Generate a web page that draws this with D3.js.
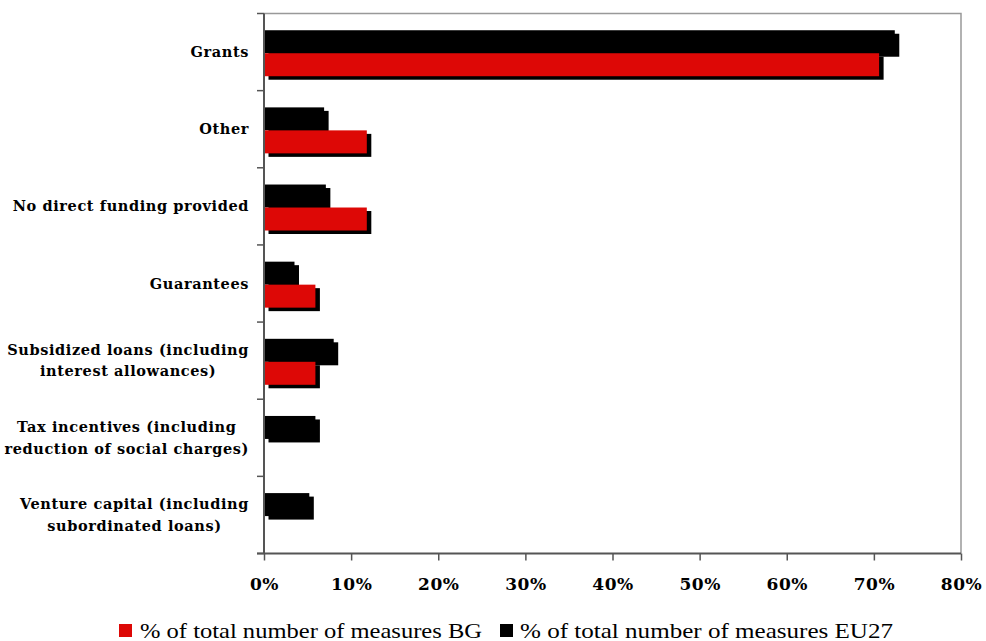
<!DOCTYPE html>
<html>
<head>
<meta charset="utf-8">
<script src="https://cdn.jsdelivr.net/npm/d3@7/dist/d3.min.js"></script>
<style>
  html, body { margin: 0; padding: 0; background: #fff; }
  svg { display: block; }
</style>
</head>
<body>
<svg id="chart" width="986" height="641"></svg>
<script>
// Financing instruments, share of measures
const categories = [
  ["Grants"],
  ["Other"],
  ["No direct funding provided"],
  ["Guarantees"],
  ["Subsidized loans (including", "interest allowances)"],
  ["Tax incentives (including", "reduction of social charges)"],
  ["Venture capital (including", "subordinated loans)"]
];
const valuesEU27 = [0.724, 0.069, 0.071, 0.035, 0.080, 0.059, 0.052];
const valuesBG   = [0.706, 0.118, 0.118, 0.059, 0.059, 0.0, 0.0];
const xTicks = [0, 0.1, 0.2, 0.3, 0.4, 0.5, 0.6, 0.7, 0.8];
const seriesNames = ["% of total number of measures BG", "% of total number of measures EU27"];

const RED = "#dd0806";
const BLACK = "#000000";
const AXIS = "#555555";

const svg = d3.select("#chart");
const plot = { left: 264, right: 961, top: 13.5, bottom: 553.5 };

const keys = categories.map(c => c.join(" "));
const x = d3.scaleLinear().domain([0, 0.8]).range([plot.left, plot.right]);
const y = d3.scaleBand().domain(keys).range([plot.top, plot.bottom]).padding(0);

const bw = y.bandwidth();
const barH = bw * 0.298;
const groupTop = bw * 0.217;
const shadow = { dx: 4.5, dy: 3.5 };

const rows = keys.map((k, i) => ({ key: k, lines: categories[i], eu: valuesEU27[i], bg: valuesBG[i] }));

// plot frame (top and right edges)
svg.append("path")
  .attr("d", `M${plot.left},${plot.top}H${plot.right}V${plot.bottom}`)
  .attr("fill", "none").attr("stroke", "#999").attr("stroke-width", 1.5);

// bar shadows
const gShadow = svg.append("g");
rows.forEach(r => {
  const y0 = y(r.key) + groupTop;
  [[r.eu, y0], [r.bg, y0 + barH]].forEach(([v, yy]) => {
    if (v <= 0) return;
    gShadow.append("rect")
      .attr("x", x(0) + shadow.dx).attr("y", yy + shadow.dy)
      .attr("width", x(v) - x(0)).attr("height", barH)
      .attr("fill", BLACK);
  });
});

// bars
const gBars = svg.append("g");
gBars.selectAll("rect.eu").data(rows).join("rect")
  .attr("class", "eu")
  .attr("x", x(0)).attr("y", d => y(d.key) + groupTop)
  .attr("width", d => x(d.eu) - x(0)).attr("height", barH)
  .attr("fill", BLACK);
gBars.selectAll("rect.bg").data(rows).join("rect")
  .attr("class", "bg")
  .attr("x", x(0)).attr("y", d => y(d.key) + groupTop + barH)
  .attr("width", d => x(d.bg) - x(0)).attr("height", barH)
  .attr("fill", RED);

// x axis
const xAxis = svg.append("g")
  .attr("transform", `translate(0,${plot.bottom})`)
  .call(d3.axisBottom(x).tickValues(xTicks).tickFormat(d3.format(".0%")).tickSize(7).tickSizeOuter(0).tickPadding(17));
xAxis.select(".domain").attr("stroke", AXIS).attr("stroke-width", 2)
  .attr("d", `M${plot.left - 7},0H${plot.right}`);
xAxis.selectAll(".tick line").attr("stroke", AXIS).attr("stroke-width", 1.5);
xAxis.selectAll(".tick text")
  .attr("fill", "#000")
  .style("font-family", "'DejaVu Serif', serif")
  .style("font-size", "17px")
  .style("font-weight", "bold")
  .style("letter-spacing", "0.5px");

// y axis: line plus ticks at band boundaries
const yAxis = svg.append("g");
yAxis.append("line")
  .attr("x1", plot.left).attr("x2", plot.left)
  .attr("y1", plot.top).attr("y2", plot.bottom)
  .attr("stroke", AXIS).attr("stroke-width", 2);
const bounds = keys.map(k => y(k)).concat([plot.bottom]);
yAxis.selectAll("line.tk").data(bounds).join("line")
  .attr("class", "tk")
  .attr("x1", plot.left - 7).attr("x2", plot.left)
  .attr("y1", d => d).attr("y2", d => d)
  .attr("stroke", AXIS).attr("stroke-width", 1.5);

// category labels, each block right-aligned with lines centred
const labelRight = 249;
const lineGap = 21.5;
rows.forEach(r => {
  const cy = y(r.key) + bw / 2;
  const t = yAxis.append("text")
    .attr("fill", "#000")
    .style("font-family", "'DejaVu Serif', serif")
    .style("font-size", "14.5px")
    .style("font-weight", "bold")
    .style("letter-spacing", "0.6px")
    .attr("text-anchor", "middle");
  const n = r.lines.length;
  const spans = r.lines.map((ln, i) => t.append("tspan")
    .attr("y", cy + (i - (n - 1) / 2) * lineGap)
    .attr("dy", "0.35em")
    .text(ln));
  const w = d3.max(spans, s => s.node().getComputedTextLength());
  spans.forEach(s => s.attr("x", labelRight - w / 2));
});

// legend
const legend = svg.append("g");
const legendItems = [
  { name: seriesNames[0], color: RED, sx: 119, tx: 140, len: 342 },
  { name: seriesNames[1], color: BLACK, sx: 500, tx: 520, len: 373 }
];
legendItems.forEach(it => {
  legend.append("rect").attr("x", it.sx).attr("y", 624).attr("width", 13).attr("height", 13).attr("fill", it.color);
  legend.append("text")
    .attr("x", it.tx).attr("y", 637.5)
    .attr("fill", "#000")
    .style("font-family", "'Liberation Serif', serif")
    .style("font-size", "21px")
    .attr("textLength", it.len)
    .attr("lengthAdjust", "spacingAndGlyphs")
    .text(it.name);
});
</script>
</body>
</html>
